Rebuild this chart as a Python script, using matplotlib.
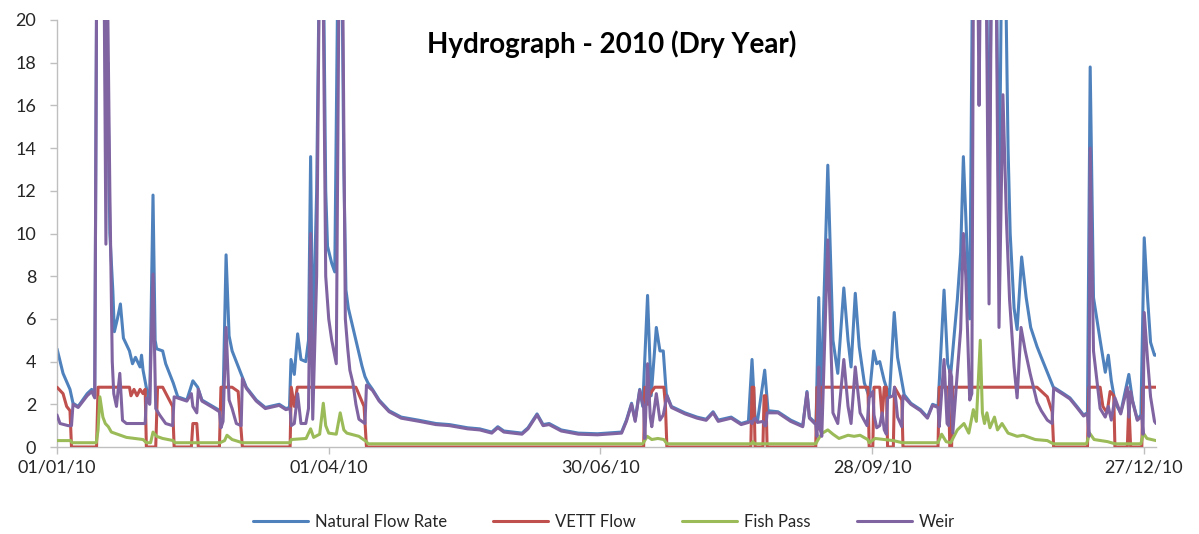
import matplotlib
matplotlib.use("Agg")
import matplotlib.pyplot as plt

plt.rcParams['font.family'] = ['Lato', 'DejaVu Sans']

# ---- data: (day of year offset from 01/01/10, value) ----
tick_days = [0, 90, 180, 270, 360]
tick_labels = ["01/01/10", "01/04/10", "30/06/10", "28/09/10", "27/12/10"]
y_ticks = [0, 2, 4, 6, 8, 10, 12, 14, 16, 18, 20]

natural_flow = [
    (0, 4.6), (2, 3.45), (4.3, 2.7), (5.3, 2.05), (7, 1.9), (10, 2.5), (11.5, 2.7), (12.5, 2.4),
    (13.2, 24), (14, 30), (15.5, 28), (16.2, 14), (16.8, 18), (17.5, 10), (18.5, 7.3), (19, 5.4),
    (20, 6.0), (21, 6.7), (22, 5.1), (24, 4.5), (25, 3.9), (26, 4.2), (27.5, 3.75), (28, 4.3),
    (28.5, 3.6), (29.7, 2.7), (30.7, 2.05), (31.8, 11.8), (32.5, 5.0), (33, 4.6), (35, 4.5),
    (36, 3.9), (38.5, 3.0), (40, 2.35), (43, 2.2), (45, 3.1), (46.6, 2.8), (48, 2.2), (51.6, 1.9),
    (54, 1.7), (55, 2.2), (56, 9.0), (57, 5.2), (58, 4.5), (60.5, 3.6), (62.7, 2.8), (66, 2.2),
    (69, 1.85), (72, 1.95), (73.6, 2.0), (75.8, 1.8), (77, 1.85), (77.5, 4.1), (78.6, 3.4),
    (79.7, 5.3), (80.8, 4.1), (82.4, 4.0), (83.3, 5.0), (84, 13.6), (84.7, 4.4), (86, 12),
    (87, 24), (88, 26), (89, 12), (89.6, 9.4), (91, 8.6), (92, 8.2), (93, 22), (94, 28), (95, 13),
    (95.7, 7.35), (96.5, 6.5), (97.5, 5.9), (99, 5.0), (100, 4.4), (101, 3.8), (102, 3.3),
    (103, 3.0), (104.5, 2.7), (106.7, 2.2), (110, 1.7),
    (114, 1.4), (120, 1.25), (125.5, 1.1), (130, 1.05), (136, 0.9), (140, 0.85), (144, 0.7),
    (146, 0.95), (148, 0.75), (154, 0.65), (156, 0.9), (159, 1.55), (161, 1.05), (163, 1.1),
    (167, 0.8), (172.7, 0.65), (179, 0.62), (187, 0.7), (188.6, 1.26), (190.3, 2.05),
    (191.5, 1.26), (193, 2.7), (194, 1.9), (195.6, 7.1), (196.8, 2.4), (198.5, 5.6), (199.7, 4.5),
    (200.8, 4.5), (201.8, 2.5), (203.5, 1.9), (208, 1.6), (212, 1.4), (215, 1.3), (217.3, 1.65),
    (219, 1.26), (223.3, 1.4), (226.6, 1.1), (229, 1.2), (230.2, 4.1), (231.2, 1.4), (232, 1.2),
    (234.4, 3.6), (235.5, 1.7), (238.8, 1.65), (243, 1.26), (247, 1.0), (248.4, 2.6), (249.2, 1.4),
    (251.4, 1.1), (252.3, 7.0), (253, 1.9), (255.3, 13.2), (257, 5.0), (258.6, 3.45), (260.6, 7.45),
    (262, 5.0), (263, 3.75), (264.4, 7.2), (265.7, 4.7), (267.4, 3.0), (269, 2.35), (270.5, 4.5),
    (271.5, 3.9), (272.5, 4.0), (274, 3.1), (275.7, 2.35), (277.3, 6.3), (278.4, 4.2), (280.6, 2.45),
    (282.8, 2.05), (286, 1.75), (288.3, 1.4), (290, 2.0), (291.8, 1.9), (293.8, 7.35), (295, 3.9),
    (296, 3.4), (298.2, 6.9), (299.3, 9.1), (300.2, 13.6), (301, 10.8), (302.3, 6.0), (303.2, 22),
    (304, 30), (305, 28), (305.5, 21), (306.3, 28), (307.5, 28), (308.7, 11), (309.8, 28),
    (310.8, 28), (312, 10), (313.2, 28), (314.2, 22), (315, 14), (315.7, 10), (317, 6.5), (318, 5.5),
    (319.5, 8.9), (321, 7.0), (322.5, 5.6), (324.6, 4.7), (326, 4.2), (328, 3.5), (330, 2.8),
    (331.2, 2.7), (333.4, 2.5), (335.5, 2.3), (337.8, 1.9), (340, 1.5), (341.3, 1.6), (342.2, 17.8),
    (343.3, 7.0), (345.5, 5.0), (347.2, 3.5), (348.2, 4.3), (349.2, 3.1), (350.5, 2.05), (352.3, 1.6),
    (355, 3.4), (356.2, 2.2), (357.8, 1.3), (359, 1.5), (360.1, 9.8), (361.2, 7.0), (362.2, 4.9),
    (363.5, 4.3), (364, 4.3),
]

vett_flow = [
    (0, 2.8), (2, 2.5), (3.2, 1.9), (4.3, 1.7), (4.8, 0), (13.1, 0), (13.6, 2.8), (24, 2.8),
    (24.5, 2.4), (25.5, 2.7), (26.5, 2.4), (27.5, 2.7), (28.5, 2.5), (29.2, 2.7), (29.6, 0),
    (32.7, 0), (33.3, 2.8), (35, 2.8), (38.3, 1.9), (38.8, 0), (44.5, 0), (45, 1.1), (46.3, 1.1),
    (46.8, 0), (53.8, 0), (54.3, 2.8), (58, 2.8), (60, 2.6), (61.4, 0), (77.2, 0), (77.6, 2.8),
    (78.6, 1.9), (79.6, 2.8), (99, 2.8), (101.7, 1.9), (102.5, 0), (194.3, 0), (194.7, 2.8),
    (195.7, 2.0), (196.5, 2.5), (198, 2.8), (201, 2.8), (201.5, 2.0), (202, 0), (229.8, 0),
    (230.2, 2.8), (230.8, 2.8), (231.2, 0), (233.8, 0), (234.2, 2.4), (234.8, 2.4), (235.2, 0),
    (251.3, 0), (251.7, 2.8), (252.3, 2.8), (252.7, 0.8), (253.3, 2.8), (268.6, 2.8), (269, 0),
    (270.2, 0), (270.6, 2.8), (272.5, 2.8), (273.3, 1.4), (274, 2.8), (274.7, 2.8), (275.1, 0),
    (277, 0), (277.4, 2.8), (279, 2.4), (279.8, 2.2), (280.2, 0), (291.8, 0), (292.2, 2.8),
    (295.3, 2.8), (295.7, 0), (296.3, 0), (296.7, 2.8), (324.6, 2.8), (328, 2.35), (329.6, 1.65),
    (330.1, 0), (341.3, 0), (341.8, 2.8), (345.5, 2.8), (346.4, 1.9), (347.8, 1.6), (348.8, 2.6),
    (350, 2.4), (350.4, 0), (354.5, 0), (355, 2.0), (355.6, 0), (359.3, 0), (359.7, 2.8), (364, 2.8),
]

fish_pass = [
    (0, 0.3), (4.5, 0.3), (5, 0.2), (13, 0.2), (13.6, 0.8), (14.2, 2.35), (15.2, 1.4), (16, 1.1),
    (17, 0.95), (18, 0.7), (20, 0.6), (23, 0.45), (28.5, 0.35), (29.6, 0.2), (31, 0.2), (31.8, 0.7),
    (33, 0.5), (35, 0.4), (38.5, 0.3), (39, 0.2), (54, 0.2), (55.5, 0.3), (56.3, 0.55), (58, 0.35),
    (61.4, 0.2), (77.2, 0.2), (77.6, 0.35), (82.5, 0.4), (84, 0.85), (85, 0.45), (87, 0.6),
    (88.2, 2.05), (89, 1.0), (90, 0.65), (92.5, 0.6), (93.8, 1.6), (95, 0.8), (96, 0.65), (100, 0.5),
    (102.5, 0.25), (103, 0.15), (194, 0.15), (195.5, 0.5), (197, 0.35), (199, 0.4), (201, 0.35),
    (202, 0.15), (230, 0.15), (230.5, 0.25), (231, 0.15), (251.3, 0.15), (252.3, 0.4),
    (253.5, 0.65), (255.3, 0.8), (257, 0.6), (259, 0.4), (262, 0.55), (264, 0.5), (266, 0.55),
    (268.5, 0.35), (269, 0.2), (271, 0.4), (274, 0.35), (277, 0.3), (280, 0.2), (291.8, 0.2),
    (293, 0.6), (294.5, 0.25), (296, 0.2), (298.2, 0.8), (300.4, 1.1), (302, 0.65), (303.5, 1.75),
    (304.5, 1.2), (305.8, 5.0), (306.5, 1.6), (307.2, 1.1), (308, 1.6), (309, 0.9), (310.5, 1.4),
    (311.5, 0.8), (313, 1.1), (315, 0.65), (318, 0.5), (320, 0.55), (324, 0.35), (328, 0.3),
    (330, 0.15), (341, 0.15), (342, 0.65), (343.5, 0.35), (348, 0.25), (350.4, 0.15), (359, 0.15),
    (359.8, 0.65), (361, 0.4), (364, 0.3),
]

weir = [
    (0, 1.5), (1, 1.1), (3.7, 1.0), (4.8, 1.0), (5.3, 2.0), (7, 1.85), (10, 2.4), (11.5, 2.6),
    (12.5, 2.3), (13.2, 24), (14, 27), (15.5, 24), (16.2, 9.5), (16.7, 22), (17.5, 12), (18.3, 4),
    (18.8, 2.5), (19.7, 1.9), (20.8, 3.45), (21.7, 1.25), (23, 1.1), (29.2, 1.1), (29.6, 2.3),
    (30.7, 2.0), (31.8, 8.1), (32.7, 1.8), (34, 1.5), (36, 1.1), (38.3, 1.0), (38.8, 2.35),
    (43, 2.15), (44.5, 2.5), (45, 1.9), (46.3, 1.6), (46.8, 2.7), (48, 2.15), (51.6, 1.85),
    (53.8, 1.65), (54.3, 0.9), (55, 1.2), (56, 5.6), (57, 2.2), (58, 1.8), (59.4, 1.1), (61, 1.0),
    (61.4, 3.2), (62.7, 2.75), (66, 2.15), (69, 1.8), (72, 1.9), (73.6, 1.95), (75.8, 1.75),
    (77.2, 1.8), (77.6, 1.0), (78.6, 1.1), (79.7, 2.5), (80.8, 1.1), (82.4, 1.1), (83.3, 1.8),
    (84, 10.0), (84.7, 1.3), (86, 8), (87, 24), (88, 24), (89, 8), (90, 6), (91, 5), (92.5, 3.9),
    (93.5, 24), (94.5, 24), (95.5, 6), (96.3, 4.6), (97, 3.6), (98, 3.0), (99, 2.0), (100, 1.3),
    (102, 1.1), (102.5, 2.9),
    (104.5, 2.65), (106.7, 2.15), (110, 1.65), (114, 1.35), (120, 1.2), (125.5, 1.05), (130, 1.0),
    (136, 0.85), (140, 0.8), (144, 0.65), (146, 0.9), (148, 0.7), (154, 0.6), (156, 0.85),
    (159, 1.5), (161, 1.0), (163, 1.05), (167, 0.75), (172.7, 0.6), (179, 0.57), (187, 0.65),
    (188.6, 1.2), (190.3, 2.0), (191.5, 1.2), (193, 2.65), (194.3, 1.85), (194.7, 0.4), (195.6, 3.9),
    (196.5, 1.4), (197, 0.95), (198.5, 2.5), (199.7, 1.26), (200.8, 1.5), (201.5, 2.0), (202, 2.4),
    (203.5, 1.85), (208, 1.55), (212, 1.35), (215, 1.25), (217.3, 1.6), (219, 1.2), (223.3, 1.35),
    (226.6, 1.05), (229, 1.15), (229.8, 1.2), (230.2, 1.1), (230.8, 1.3), (231.2, 1.35), (232, 1.15),
    (233.8, 1.2), (234.4, 1.0), (234.8, 1.0), (235.2, 1.6), (238.8, 1.6), (243, 1.2), (247, 0.95),
    (248.4, 2.55), (249.2, 1.35), (251.3, 1.05), (251.7, 0.5), (252.3, 3.75), (252.7, 0.9),
    (253.3, 0.5), (255.3, 9.7), (257, 1.6), (258.6, 1.1), (260.6, 4.1), (262, 1.9), (263, 1.1),
    (264.4, 3.75), (266, 1.6), (268.3, 1.0), (269, 2.3), (270.2, 2.6), (270.6, 1.5), (271.5, 0.9),
    (272.5, 1.0), (273.3, 1.6), (274, 0.8), (274.7, 0.6), (275.1, 2.3), (277, 2.4), (277.4, 2.8),
    (278.4, 1.4), (279.8, 0.95), (280.2, 2.4), (282.8, 2.0), (286, 1.7), (288.3, 1.35), (290, 1.95),
    (291.8, 1.85), (292.2, 0.95), (293.8, 4.1), (294.8, 1.1), (295.3, 1.0), (295.7, 3.6), (296.3, 3.3),
    (296.7, 0.65), (298.2, 3.5), (299.3, 5.5), (300.2, 10.0), (301, 8.0), (302.3, 2.2), (303, 2.5),
    (303.6, 25), (304.8, 25), (305.4, 16), (306, 25), (307.6, 25), (308.7, 6.7), (309.6, 25),
    (310.9, 25), (312, 5.6), (313.3, 16.5), (314.5, 10.5), (315.5, 6.9), (317, 3.75), (318, 2.3),
    (319.3, 5.6), (320.7, 4.5), (322.3, 3.45), (324.6, 2.1), (326, 1.7), (328, 1.26), (329.6, 1.1),
    (330.1, 2.75), (331.2, 2.65), (333.4, 2.45), (335.5, 2.25), (337.8, 1.85), (340, 1.45),
    (341.3, 1.55), (341.8, 0.5), (342.2, 14.0), (343.3, 4.5), (345.5, 1.8), (347.2, 1.4), (348.2, 1.9),
    (349.2, 1.26), (350.4, 2.3), (352.3, 1.55), (354.5, 2.8), (355, 1.4), (355.6, 2.6), (356.2, 2.15),
    (357.8, 1.25), (359.3, 1.45), (359.7, 0.6), (360.1, 6.3), (361.2, 4.1), (362.2, 2.35),
    (363.5, 1.2), (364, 1.1),
]

series = [
    ("Natural Flow Rate", natural_flow, "#4f81bd"),
    ("VETT Flow", vett_flow, "#c0504d"),
    ("Fish Pass", fish_pass, "#9bbb59"),
    ("Weir", weir, "#8064a2"),
]

# ---- figure ----
W, H = 1199, 534
fig = plt.figure(figsize=(W / 100, H / 100), dpi=100)
ax = fig.add_axes([57 / W, 1 - 447 / H, (1156 - 57) / W, (447 - 20) / H])

for i, (name, pts, col) in enumerate(series):
    xs = [p[0] for p in pts]
    ys = [p[1] for p in pts]
    ax.plot(xs, ys, color=col, lw=2.2, label=name, zorder=2 + i,
            solid_joinstyle="round", solid_capstyle="round")

ax.set_xlim(0, 364)
ax.set_ylim(0, 20)
ax.set_yticks(y_ticks)
ax.set_yticklabels([str(v) for v in y_ticks])
ax.set_xticks(tick_days)
ax.set_xticklabels(tick_labels)

for s in ("top", "right"):
    ax.spines[s].set_visible(False)
for s in ("left", "bottom"):
    ax.spines[s].set_color("#bfbfbf")
    ax.spines[s].set_linewidth(1.0)

ax.tick_params(axis="y", direction="out", length=5, width=1, color="#bfbfbf",
               labelsize=13, labelcolor="#262626", pad=10)
ax.tick_params(axis="x", direction="out", length=5, width=1, color="#bfbfbf",
               labelsize=13, labelcolor="#262626", pad=4)

fig.text(612 / W, 1 - 44 / H, "Hydrograph - 2010 (Dry Year)", ha="center", va="center",
         fontsize=20, fontweight="bold", color="#000000")

fig.legend(loc="center", bbox_to_anchor=(604 / W, 1 - 522 / H), ncol=4, frameon=False,
           fontsize=12, handlelength=3.3, handletextpad=0.4, columnspacing=2.8,
           labelcolor="#262626")

fig.savefig("out.png", dpi=100)
